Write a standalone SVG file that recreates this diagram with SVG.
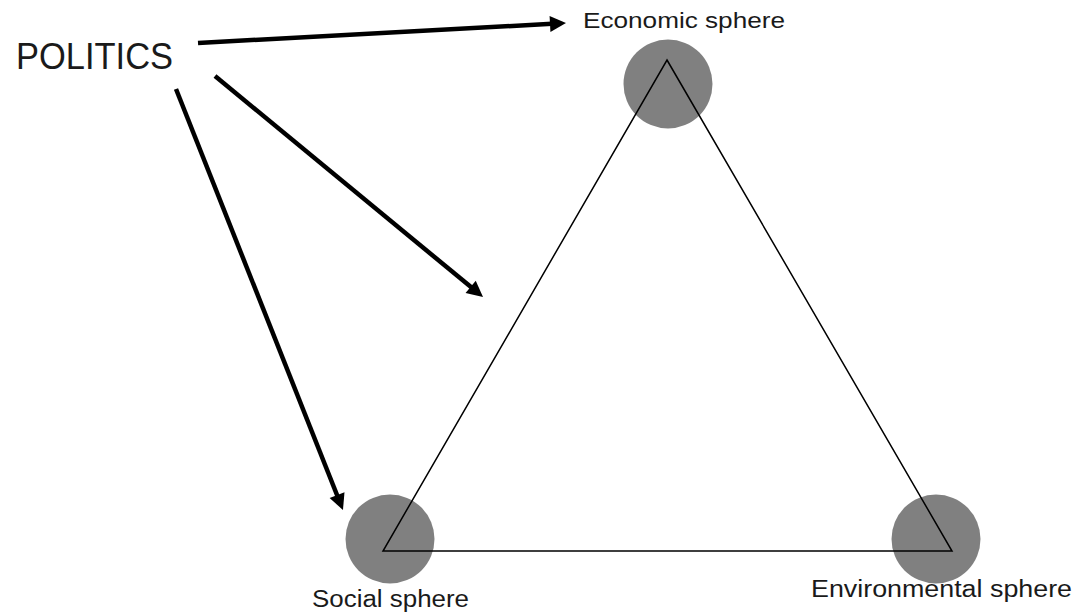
<svg xmlns="http://www.w3.org/2000/svg" width="1084" height="613" viewBox="0 0 1084 613">
<style>
.lbl{font-family:"Liberation Sans",Arial,sans-serif;fill:#1a1a1a;}
.sphere{fill:#808080;}
.tri{fill:none;stroke:#000;stroke-width:1.5;stroke-linejoin:miter;}
.arrow{stroke:#000;stroke-width:4.5;fill:none;marker-end:url(#ah);}
</style>
<defs>
<marker id="ah" markerUnits="userSpaceOnUse" markerWidth="20" markerHeight="20" refX="2" refY="0" orient="auto" overflow="visible">
<path d="M0,-8 L16,0 L0,8 z" fill="#000"/>
</marker>
</defs>
<rect width="1084" height="613" fill="#fff"/>
<g id="economic">
<circle class="sphere" cx="668" cy="84" r="44.5"/>
<text class="lbl" x="583" y="28" font-size="22" textLength="202" lengthAdjust="spacingAndGlyphs">Economic sphere</text>
</g>
<g id="social">
<circle class="sphere" cx="390" cy="539" r="44.5"/>
<text class="lbl" x="312" y="607" font-size="23" textLength="157" lengthAdjust="spacingAndGlyphs">Social sphere</text>
</g>
<g id="environmental">
<circle class="sphere" cx="936" cy="539" r="44.5"/>
<text class="lbl" x="811" y="597" font-size="23" textLength="261" lengthAdjust="spacingAndGlyphs">Environmental sphere</text>
</g>
<g id="triangle">
<polygon class="tri" points="667,60 952,551 383,551"/>
</g>
<g id="politics">
<text class="lbl" x="16" y="69" font-size="36" textLength="157" lengthAdjust="spacingAndGlyphs">POLITICS</text>
</g>
<g id="connectors">
<line class="arrow" x1="198" y1="43" x2="552" y2="23.8"/>
<line class="arrow" x1="215" y1="76" x2="472.2" y2="288.1"/>
<line class="arrow" x1="176" y1="89" x2="337.8" y2="497"/>
</g>
</svg>
